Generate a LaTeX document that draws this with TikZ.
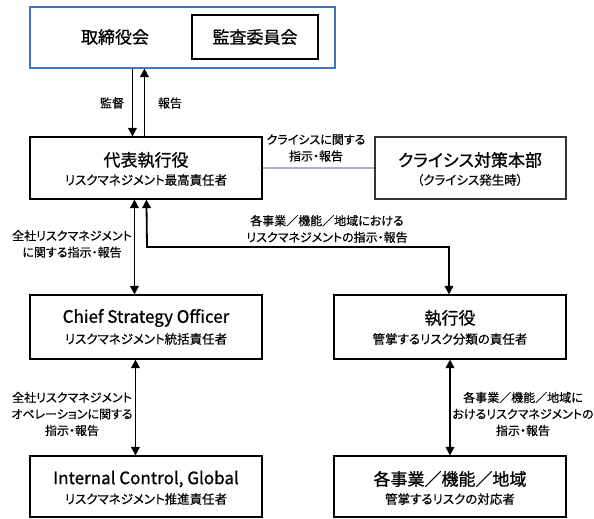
\documentclass[tikz,border=0pt]{standalone}
\usepackage{fontspec}
\setmainfont[RawFeature=+palt]{Noto Sans CJK JP}
\newfontfamily\heavyjp[FakeBold=0.8,RawFeature=+palt]{Noto Sans CJK JP}
\newfontfamily\midjp[FakeBold=0.4,RawFeature=+palt]{Noto Sans CJK JP}
\usetikzlibrary{arrows.meta}
\definecolor{topblue}{HTML}{4472C4}
\definecolor{linkgray}{HTML}{A8B2C2}
\tikzset{
  box/.style={draw=black, line width=1.1pt, minimum width=232pt, minimum height=62pt, align=center, inner sep=0pt},
  title/.style={font=\heavyjp\fontsize{17}{20}\selectfont},
  sub/.style={font=\midjp\fontsize{12.5}{15}\selectfont},
  lbl/.style={font=\midjp\fontsize{12}{16.5}\selectfont, align=center, inner sep=1pt},
  arr/.style={line width=1.8pt, -{Triangle[width=8.5pt,length=8.5pt]}},
  darr/.style={line width=1.8pt, {Triangle[width=8.5pt,length=8.5pt]}-{Triangle[width=8.5pt,length=8.5pt]}},
}
\begin{document}
\begin{tikzpicture}[x=1pt,y=-1pt]
\useasboundingbox (0,0) rectangle (594,519);
% top board box
\node[draw=topblue, line width=1.1pt, minimum width=305pt, minimum height=61pt, inner sep=0pt] (board) at (182.5,37.5) {};
\node[title] (boardtxt) at (115,37) {取締役会};
\node[draw=black, line width=1.1pt, minimum width=126pt, minimum height=44pt, inner sep=0pt, title] (audit) at (255,37) {監査委員会};
% representative executive
\node[box] (rep) at (146,168) {};
\node[title] at (146,160) {代表執行役};
\node[sub] at (146,180) {リスクマネジメント最高責任者};
% crisis
\node[box, draw=black!80, minimum width=191pt] (crisis) at (470.5,168) {};
\node[title] at (470,160) {クライシス対策本部};
\node[sub] at (470,180) {（クライシス発生時）};
% CSO
\node[box, minimum height=64pt] (cso) at (146,327) {};
\node[title] at (146,318) {Chief Strategy Officer};
\node[sub] at (146,339) {リスクマネジメント統括責任者};
% exec
\node[box, minimum height=64pt] (exec) at (450,327) {};
\node[title] at (450,318) {執行役};
\node[sub] at (450,339) {管掌するリスク分類の責任者};
% internal control
\node[box, minimum height=61pt] (ic) at (146,486.5) {};
\node[title] at (146,479) {Internal Control, Global};
\node[sub] at (146,499) {リスクマネジメント推進責任者};
% business
\node[box, minimum height=61pt] (biz) at (450,486.5) {};
\node[title] at (450,479) {各事業／機能／地域};
\node[sub] at (450,499) {管掌するリスクの対応者};

% connectors
\draw[arr] ([xshift=103pt]board.south west) -- ([xshift=103pt]rep.north west);
\draw[arr] ([xshift=115pt]rep.north west) -- ([xshift=115pt]board.south west);
\draw[linkgray, line width=2pt] (rep.east) -- (crisis.west);
\draw[darr] ([xshift=105pt]rep.south west) -- ([xshift=105pt]cso.north west);
\coordinate (elbowL) at (147,247);
\coordinate (elbowR) at (449,247);
\draw[darr] ([xshift=117pt]rep.south west) -- (elbowL) -- (elbowR) -- (elbowR |- exec.north);
\draw[darr] ([xshift=106pt]cso.south west) -- ([xshift=106pt]ic.north west);
\draw[darr] (exec.south) -- (biz.north);

% labels
\node[lbl] (l1) at (112,103) {監督};
\node[lbl] (l2) at (170,103) {報告};
\node[lbl] (l3) at (316,148) {クライシスに関する\\指示・報告};
\node[lbl] (l4) at (72,244) {全社リスクマネジメント\\に関する指示・報告};
\node[lbl] (l5) at (327,229) {各事業／機能／地域における\\リスクマネジメントの指示・報告};
\node[lbl] (l6) at (72,414) {全社リスクマネジメント\\オペレーションに関する\\指示・報告};
\node[lbl] (l7) at (523,414) {各事業／機能／地域に\\おけるリスクマネジメントの\\指示・報告};
\end{tikzpicture}
\end{document}
